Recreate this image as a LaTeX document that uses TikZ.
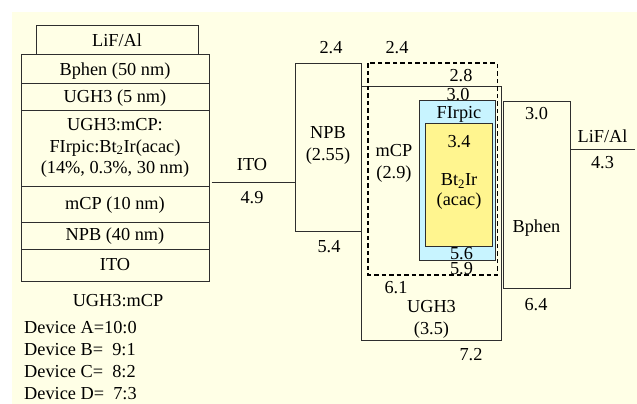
\documentclass[tikz,border=0pt]{standalone}
\usepackage{fontspec}
\setmainfont{Liberation Serif}
\definecolor{bgc}{HTML}{FFFFE6}
\definecolor{edge}{HTML}{2E2E2E}
\definecolor{cyanf}{HTML}{C8F4FF}
\definecolor{yelf}{HTML}{FFF58F}
\begin{document}
\begin{tikzpicture}[x=1pt,y=-1pt,
  lbl/.style={inner sep=0pt,text height=12.2pt,text depth=0pt,font=\fontsize{18.3}{22}\selectfont},
  box/.style={draw=edge,line width=0.9pt},
  dbox/.style={draw=black,line width=1.7pt,dash pattern=on 4.5pt off 3pt}]
\useasboundingbox (0,0) rectangle (637,404);
\fill[bgc] (12,12) rectangle (637,404);

% ---- left layer stack ----
\draw[box] (36,25) rectangle (198,54);
\draw[box] (21,54) rectangle (209,281);
\foreach \yy in {83,110,186,222,249} \draw[box] (21,\yy) -- (209,\yy);
\node[lbl] (tLiF) at (117,40) {LiF/Al};
\node[lbl] (tBph) at (115,69) {Bphen (50 nm)};
\node[lbl] (tUGH) at (115,96.5) {UGH3 (5 nm)};
\node[lbl] (tMix1) at (115,124.5) {UGH3:mCP:};
\node[lbl] (tMix2) at (115,146) {FIrpic:Bt\textsubscript{2}Ir(acac)};
\node[lbl] (tMix3) at (115,167) {(14\%, 0.3\%, 30 nm)};
\node[lbl] (tmCP) at (115,203) {mCP (10 nm)};
\node[lbl] (tNPB) at (115,234) {NPB (40 nm)};
\node[lbl] (tITO) at (115,264) {ITO};

\node[lbl] (tRatio) at (118,300) {UGH3:mCP};
\node[lbl,anchor=west] (dA) at (24,327.5) {Device A=10:0};
\node[lbl,anchor=west] (dB) at (24,349.5) {Device B=\ \ 9:1};
\node[lbl,anchor=west] (dC) at (24,371.5) {Device C=\ \ 8:2};
\node[lbl,anchor=west] (dD) at (24,393) {Device D=\ \ 7:3};

% ---- energy diagram ----
\coordinate (itoL) at (211.5,182);
\coordinate (itoR) at (295,182);
\draw[box] (itoL) -- (itoR);
\node[lbl] (lITO) at (252,164) {ITO};
\node[lbl] (l49) at (252,197) {4.9};

\draw[box] (295,63) rectangle (361.5,231.7);
\draw[box] (361.5,86.7) rectangle (501.5,340.7);
\node[lbl] (l30a) at (458,94.5) {3.0};
\draw[box,fill=cyanf] (419,100.7) rectangle (495.3,260);
\draw[box,fill=yelf] (425.7,123.7) rectangle (492,246.7);
\draw[dbox] (368,63.3) rectangle (497.5,274.7);
\draw[box] (503,101) rectangle (570,288);
\coordinate (lifL) at (570,149.3);
\coordinate (lifR) at (635,149.3);
\draw[box] (lifL) -- (lifR);

\node[lbl] (l24a) at (331,47) {2.4};
\node[lbl] (l24b) at (397,47) {2.4};
\node[lbl] (l28) at (461,75) {2.8};
\node[lbl] (tNPBr1) at (328,132.5) {NPB};
\node[lbl] (tNPBr2) at (328,154) {(2.55)};
\node[lbl] (tmCPr1) at (394,150.5) {mCP};
\node[lbl] (tmCPr2) at (394,172) {(2.9)};
\node[lbl] (tFIr) at (459,112.5) {FIrpic};
\node[lbl] (l34) at (459,141.5) {3.4};
\node[lbl] (tBt) at (459,179.5) {Bt\textsubscript{2}Ir};
\node[lbl] (tacac) at (459,199.5) {(acac)};
\node[lbl] (l56) at (461.5,253.3) {5.6};
\node[lbl] (l59) at (461.5,268.5) {5.9};
\node[lbl] (l54) at (329,246.5) {5.4};
\node[lbl] (l61) at (396,287) {6.1};
\node[lbl] (tUGHr1) at (431.5,306) {UGH3};
\node[lbl] (tUGHr2) at (431.5,328) {(3.5)};
\node[lbl] (l72) at (471,354) {7.2};
\node[lbl] (l30b) at (536.5,113.3) {3.0};
\node[lbl] (tBphr) at (536.5,226.5) {Bphen};
\node[lbl] (l64) at (536,304.3) {6.4};
\node[lbl] (tLiFr) at (602.5,136.5) {LiF/Al};
\node[lbl] (l43) at (602.5,162.5) {4.3};
\end{tikzpicture}
\end{document}
